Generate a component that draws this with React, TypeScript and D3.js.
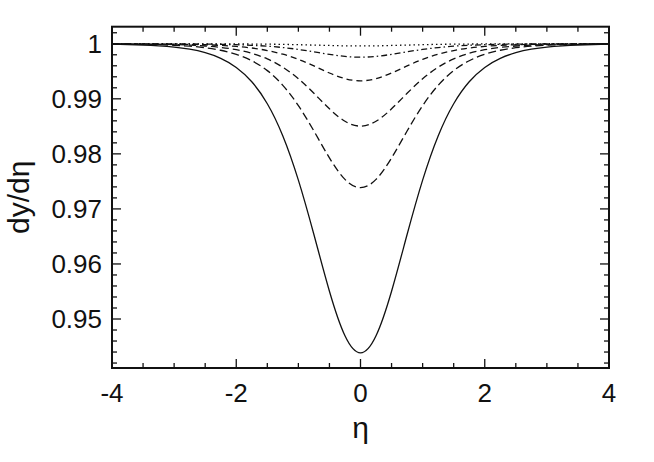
import React from "react";
import * as d3 from "d3";

const W = 654;
const H = 462;

const eta = [-4, -3.75, -3.5, -3.25, -3, -2.75, -2.5, -2.25, -2, -1.75, -1.5, -1.25, -1, -0.75, -0.5, -0.25, 0,
  0.25, 0.5, 0.75, 1, 1.25, 1.5, 1.75, 2, 2.25, 2.5, 2.75, 3, 3.25, 3.5, 3.75, 4];

const curveSolid = [0.99992, 0.99987, 0.99978, 0.99963, 0.99940, 0.99901, 0.99838, 0.99735, 0.99570, 0.99310, 0.98911, 0.98326, 0.97523, 0.96535, 0.95505, 0.94696, 0.94386,
  0.94696, 0.95505, 0.96535, 0.97523, 0.98326, 0.98911, 0.99310, 0.99570, 0.99735, 0.99838, 0.99901, 0.99940, 0.99963, 0.99978, 0.99987, 0.99992];
const curveDashLong = [0.99996, 0.99994, 0.99990, 0.99984, 0.99973, 0.99956, 0.99928, 0.99882, 0.99808, 0.99692, 0.99512, 0.99245, 0.98876, 0.98415, 0.97926, 0.97536, 0.97387,
  0.97536, 0.97926, 0.98415, 0.98876, 0.99245, 0.99512, 0.99692, 0.99808, 0.99882, 0.99928, 0.99956, 0.99973, 0.99984, 0.99990, 0.99994, 0.99996];
const curveDashMid = [0.99998, 0.99997, 0.99994, 0.99991, 0.99985, 0.99975, 0.99959, 0.99934, 0.99892, 0.99826, 0.99725, 0.99574, 0.99364, 0.99100, 0.98818, 0.98592, 0.98504,
  0.98592, 0.98818, 0.99100, 0.99364, 0.99574, 0.99725, 0.99826, 0.99892, 0.99934, 0.99959, 0.99975, 0.99985, 0.99991, 0.99994, 0.99997, 0.99998];
const curveDashShort = [0.99999, 0.99999, 0.99998, 0.99996, 0.99993, 0.99989, 0.99982, 0.99971, 0.99952, 0.99923, 0.99877, 0.99810, 0.99716, 0.99597, 0.99469, 0.99367, 0.99327,
  0.99367, 0.99469, 0.99597, 0.99716, 0.99810, 0.99877, 0.99923, 0.99952, 0.99971, 0.99982, 0.99989, 0.99993, 0.99996, 0.99998, 0.99999, 0.99999];
const curveDashDot = [1.0, 1.0, 0.99999, 0.99999, 0.99998, 0.99996, 0.99994, 0.99989, 0.99983, 0.99972, 0.99956, 0.99931, 0.99897, 0.99854, 0.99808, 0.99771, 0.99756,
  0.99771, 0.99808, 0.99854, 0.99897, 0.99931, 0.99956, 0.99972, 0.99983, 0.99989, 0.99994, 0.99996, 0.99998, 0.99999, 0.99999, 1.0, 1.0];
const curveDotted = [1.0, 1.0, 1.0, 1.0, 1.0, 0.99999, 0.99999, 0.99998, 0.99997, 0.99995, 0.99993, 0.99989, 0.99983, 0.99976, 0.99969, 0.99962, 0.99960,
  0.99962, 0.99969, 0.99976, 0.99983, 0.99989, 0.99993, 0.99995, 0.99997, 0.99998, 0.99999, 0.99999, 1.0, 1.0, 1.0, 1.0, 1.0];

const xTickLabels = ["-4", "-2", "0", "2", "4"];
const yTickLabels = ["0.95", "0.96", "0.97", "0.98", "0.99", "1"];

const series = [
  { name: "solid", values: curveSolid, dash: "none" },
  { name: "dashLong", values: curveDashLong, dash: "8,4" },
  { name: "dashMid", values: curveDashMid, dash: "7,4" },
  { name: "dashShort", values: curveDashShort, dash: "6,4" },
  { name: "dashDot", values: curveDashDot, dash: "6,3,1.5,3" },
  { name: "dotted", values: curveDotted, dash: "1.5,3" },
];

export default function App() {
  const left = 112, right = 609, top = 26.7, bottom = 368;
  const x = d3.scaleLinear().domain([-4, 4]).range([left, right]);
  const y = d3.scaleLinear().domain([0.9411, 1.0031]).range([bottom, top]);

  const line = d3
    .line<number>()
    .x((_, i) => x(eta[i]))
    .y((d) => y(d))
    .curve(d3.curveNatural);

  const xMinor = d3.range(-4, 4.001, 0.5);
  const xMajor = xTickLabels.map(Number);
  const yMinor = d3.range(0.942, 1.0025, 0.002);
  const yMajor = yTickLabels.map(Number);
  const font = "'Liberation Sans', Arial, Helvetica, sans-serif";

  return (
    <svg width={W} height={H} style={{ position: "absolute", left: 0, top: 0, background: "#fff" }}>
      <rect x={0} y={0} width={W} height={H} fill="#fff" />
      <defs>
        <clipPath id="plotclip">
          <rect x={left} y={top} width={right - left} height={bottom - top} />
        </clipPath>
      </defs>
      <g clipPath="url(#plotclip)">
        {series.map((s) => (
          <path
            key={s.name}
            d={line(s.values) || ""}
            fill="none"
            stroke="#111"
            strokeWidth={1.3}
            strokeDasharray={s.dash}
          />
        ))}
      </g>
      <g stroke="#111" strokeWidth={1.3}>
        {xMinor.map((v) => {
          const major = xMajor.some((m) => Math.abs(m - v) < 1e-6);
          const len = major ? 9 : 5;
          return (
            <g key={"xt" + v}>
              <line x1={x(v)} x2={x(v)} y1={bottom} y2={bottom - len} />
              <line x1={x(v)} x2={x(v)} y1={top} y2={top + len} />
            </g>
          );
        })}
        {yMinor.map((v) => {
          const major = yMajor.some((m) => Math.abs(m - v) < 1e-6);
          const len = major ? 9 : 5;
          return (
            <g key={"yt" + v.toFixed(3)}>
              <line x1={left} x2={left + len} y1={y(v)} y2={y(v)} />
              <line x1={right} x2={right - len} y1={y(v)} y2={y(v)} />
            </g>
          );
        })}
      </g>
      <rect x={left} y={top} width={right - left} height={bottom - top} fill="none" stroke="#111" strokeWidth={2} />
      <g fontFamily={font} fontSize={26} fill="#111">
        {xTickLabels.map((t) => (
          <text key={"xl" + t} x={x(Number(t))} y={402} textAnchor="middle">
            {t}
          </text>
        ))}
        {yTickLabels.map((t) => (
          <text key={"yl" + t} x={102} y={y(Number(t))} dy="0.35em" textAnchor="end">
            {t}
          </text>
        ))}
      </g>
      <text x={x(0)} y={438} textAnchor="middle" fontFamily={font} fontSize={30} fill="#111">
        η
      </text>
      <text
        transform={`translate(29, ${(top + bottom) / 2}) rotate(-90)`}
        textAnchor="middle"
        fontFamily={font}
        fontSize={30}
        fill="#111"
      >
        dy/dη
      </text>
    </svg>
  );
}
